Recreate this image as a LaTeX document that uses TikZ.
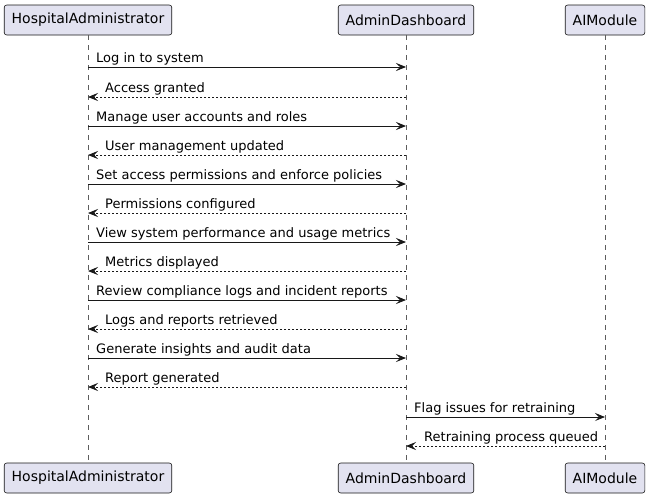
\documentclass[tikz,border=0pt]{standalone}
\usepackage{fontspec}
\setmainfont{DejaVu Sans}
\usetikzlibrary{arrows.meta}
\definecolor{partfill}{HTML}{E2E2F0}
\definecolor{partline}{HTML}{181818}
\begin{document}
\begin{tikzpicture}[x=1pt,y=-1pt,
  participant/.style={draw=partline,fill=partfill,rounded corners=2.5pt,line width=0.6pt,
    minimum height=30pt,inner xsep=7.5pt,font=\fontsize{14}{16}\selectfont},
  lifeline/.style={draw=partline!70,line width=0.5pt,dash pattern=on 5pt off 5pt},
  msg/.style={draw=partline,line width=0.8pt,-{Stealth[length=10pt,width=8pt,inset=4pt]}},
  reply/.style={msg,dash pattern=on 2pt off 2pt},
  msglabel/.style={anchor=base west,inner sep=0pt,font=\fontsize{13}{15}\selectfont}]
\useasboundingbox (0,0) rectangle (650,498);
\fill[white] (0,0) rectangle (650,498);
% participants
\node[participant] (hT) at (88,20) {HospitalAdministrator};
\node[participant] (aT) at (406,20) {AdminDashboard};
\node[participant] (mT) at (605,20) {AIModule};
\node[participant] (hB) at (88,478) {HospitalAdministrator};
\node[participant] (aB) at (406,478) {AdminDashboard};
\node[participant] (mB) at (605,478) {AIModule};
% lifelines
\draw[lifeline] (hT.south) -- (hB.north);
\draw[lifeline] (aT.south) -- (aB.north);
\draw[lifeline] (mT.south) -- (mB.north);
% message endpoints
\foreach \i/\y in {1/67,2/97,3/126,4/155,5/184,6/213,7/242,8/271,9/300,10/329,11/358,12/387,13/417,14/446}{
  \coordinate (h\i) at (88,\y);
  \coordinate (a\i) at (406,\y);
  \coordinate (m\i) at (605,\y);
}
% messages
\foreach \i/\f/\t/\s in {
  1/h/a/msg, 2/a/h/reply, 3/h/a/msg, 4/a/h/reply, 5/h/a/msg, 6/a/h/reply,
  7/h/a/msg, 8/a/h/reply, 9/h/a/msg, 10/a/h/reply, 11/h/a/msg, 12/a/h/reply,
  13/a/m/msg, 14/m/a/reply}{
  \draw[\s] (\f\i) -- (\t\i);
}
\foreach \i/\x/\txt in {
  1/96/Log in to system,
  2/105/Access granted,
  3/96/Manage user accounts and roles,
  4/105/User management updated,
  5/96/Set access permissions and enforce policies,
  6/105/Permissions configured,
  7/96/View system performance and usage metrics,
  8/105/Metrics displayed,
  9/96/Review compliance logs and incident reports,
  10/105/Logs and reports retrieved,
  11/96/Generate insights and audit data,
  12/105/Report generated,
  13/414/Flag issues for retraining,
  14/424/Retraining process queued}{
  \path (h\i) ++(0,-5) coordinate (lb\i);
  \node[msglabel] (t\i) at (\x,0 |- lb\i) {\txt};
}
\end{tikzpicture}
\end{document}
